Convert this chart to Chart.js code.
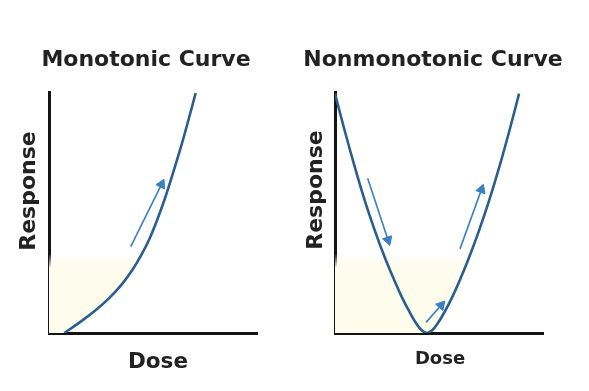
<!DOCTYPE html>
<html>
<head>
<meta charset="utf-8">
<script src="https://cdn.jsdelivr.net/npm/chart.js@4.4.0/dist/chart.umd.min.js"></script>
<style>
  html, body { margin: 0; padding: 0; background: #ffffff; width: 589px; height: 391px; overflow: hidden; }
  canvas { position: absolute; top: 0; }
  #monoChart { left: 0; }
  #nonmonoChart { left: 295px; }
</style>
</head>
<body>
<canvas id="monoChart" width="295" height="391"></canvas>
<canvas id="nonmonoChart" width="294" height="391"></canvas>
<script>
// ---------------- data ----------------
const panelTitles = ['Monotonic Curve', 'Nonmonotonic Curve'];
const yAxisTitle = 'Response';
const xAxisTitle = 'Dose';

// Monotonic curve (dose 0-10, response 0-10, arbitrary units)
const monoDose     = [0.74, 1.49, 2.21, 2.93, 3.51, 3.99, 4.42, 4.81, 5.19, 5.58, 5.96, 6.35, 6.73, 7.05];
const monoResponse = [0.00, 0.45, 0.92, 1.48, 2.03, 2.59, 3.21, 3.87, 4.67, 5.60, 6.63, 7.74, 8.92, 9.95];

// Nonmonotonic (U-shaped) curve
const nonmonoDose     = [0.00, 0.48, 0.96, 1.44, 1.92, 2.40, 2.84, 3.22, 3.61, 3.94, 4.18, 4.42,
                         4.66, 4.90, 5.24, 5.63, 6.01, 6.44, 6.92, 7.40, 7.89, 8.37, 8.85];
const nonmonoResponse = [9.93, 8.35, 6.86, 5.47, 4.24, 3.12, 2.21, 1.48, 0.83, 0.35, 0.10, 0.00,
                         0.10, 0.35, 0.83, 1.48, 2.21, 3.12, 4.24, 5.47, 6.86, 8.35, 9.93];

// Direction arrows: [tailDose, tailResponse, headDose, headResponse]
const monoArrows = [
  [3.93, 3.58, 5.41, 6.17]
];
const nonmonoArrows = [
  [1.57, 6.42, 2.55, 3.86],
  [6.01, 3.49, 7.04, 5.95],
  [4.38, 0.44, 5.10, 1.15]
];

// Low-dose shaded band (response level of its top edge)
const shadeLevel = 3.3;

// ---------------- styles ----------------
const CURVE_COLOR = '#2b5d8d';
const ARROW_COLOR = '#3a7fc1';
const AXIS_COLOR = '#141414';
const TEXT_COLOR = '#222222';
const SHADE_RGB = '254,252,236';
const SHADE_FADE = 0.6;
const FONT = '"DejaVu Sans", "Liberation Sans", sans-serif';

// ---------------- helpers ----------------
function toPoints(xs, ys) { return xs.map((x, i) => ({ x: x, y: ys[i] })); }

function interpX(p1, p2, level) {
  return p1.x + (level - p1.y) / (p2.y - p1.y) * (p2.x - p1.x);
}

// polygon: y-axis, x-axis, then along the (rising) curve until it reaches the level
function shadePolygon(xs, ys, level) {
  const pts = toPoints(xs, ys);
  let iMin = 0;
  ys.forEach((v, i) => { if (v < ys[iMin]) iMin = i; });
  const poly = [{ x: 0, y: level }, { x: 0, y: 0 }];
  for (let i = iMin; i < pts.length; i++) {
    if (pts[i].y <= level) {
      poly.push(pts[i]);
    } else {
      poly.push({ x: interpX(pts[i - 1], pts[i], level), y: level });
      break;
    }
  }
  return poly;
}

function arrowRotation(c) {
  const ch = c.chart;
  const d = ch.data.datasets[c.datasetIndex].data;
  const xs = ch.scales.x, ys = ch.scales.y;
  const dx = xs.getPixelForValue(d[1].x) - xs.getPixelForValue(d[0].x);
  const dy = ys.getPixelForValue(d[1].y) - ys.getPixelForValue(d[0].y);
  return Math.atan2(dx, -dy) * 180 / Math.PI;
}

function shadeFill(c) {
  const ch = c.chart;
  if (!ch.chartArea) return 'rgba(' + SHADE_RGB + ',1)';
  const ys = ch.scales.y;
  const y0 = ys.getPixelForValue(shadeLevel);
  const y1 = ys.getPixelForValue(shadeLevel - SHADE_FADE);
  const g = ch.ctx.createLinearGradient(0, y0, 0, y1);
  g.addColorStop(0, 'rgba(' + SHADE_RGB + ',0)');
  g.addColorStop(1, 'rgba(' + SHADE_RGB + ',1)');
  return g;
}

const panelTextPlugin = {
  id: 'panelText',
  afterDraw(chart, args, o) {
    const { ctx, chartArea: a } = chart;
    ctx.save();
    ctx.fillStyle = TEXT_COLOR;
    ctx.textAlign = 'center';
    ctx.textBaseline = 'alphabetic';
    ctx.font = 'bold ' + o.titleSize + 'px ' + FONT;
    ctx.fillText(o.title, a.left + o.titleDx, a.top + o.titleDy);
    ctx.font = 'bold ' + o.xSize + 'px ' + FONT;
    ctx.fillText(o.xTitle, a.left + o.xDx, a.bottom + o.xDy);
    ctx.translate(a.left + o.yDx, a.top + o.yDy);
    ctx.rotate(-Math.PI / 2);
    ctx.font = 'bold ' + o.ySize + 'px ' + FONT;
    ctx.fillText(o.yTitle, 0, 0);
    ctx.restore();
  }
};

function axisOpts() {
  return {
    type: 'linear', min: 0, max: 10,
    ticks: { display: false },
    grid: { display: false, drawTicks: false },
    border: { display: true, width: 3, color: AXIS_COLOR }
  };
}

function buildDatasets(xs, ys, arrows) {
  const sets = [];
  arrows.forEach(a => {
    sets.push({
      data: [{ x: a[0], y: a[1] }, { x: a[2], y: a[3] }],
      borderColor: ARROW_COLOR, borderWidth: 1.6, tension: 0, fill: false,
      pointStyle: 'triangle',
      pointRadius: c => (c.dataIndex === 1 ? 5.6 : 0),
      pointRotation: arrowRotation,
      pointBackgroundColor: ARROW_COLOR, pointBorderColor: ARROW_COLOR, pointBorderWidth: 1
    });
  });
  sets.push({
    data: toPoints(xs, ys),
    borderColor: CURVE_COLOR, borderWidth: 2.6, pointRadius: 0,
    tension: 0.4, fill: false
  });
  sets.push({
    data: shadePolygon(xs, ys, shadeLevel),
    borderWidth: 0, pointRadius: 0, tension: 0,
    fill: 'shape', backgroundColor: shadeFill
  });
  return sets;
}

function makeChart(id, xs, ys, arrows, padding, text) {
  return new Chart(document.getElementById(id), {
    type: 'line',
    data: { datasets: buildDatasets(xs, ys, arrows) },
    options: {
      responsive: false, animation: false, events: [],
      layout: { padding: padding },
      plugins: {
        legend: { display: false },
        tooltip: { enabled: false },
        title: { display: false },
        panelText: text
      },
      scales: { x: axisOpts(), y: axisOpts() }
    },
    plugins: [panelTextPlugin]
  });
}

makeChart('monoChart', monoDose, monoResponse, monoArrows,
  { left: 49, top: 92, right: 38, bottom: 58 },
  { title: panelTitles[0], titleSize: 22, titleDx: 97, titleDy: -26,
    xTitle: xAxisTitle, xSize: 21.5, xDx: 109, xDy: 34.5,
    yTitle: yAxisTitle, ySize: 22, yDx: -14, yDy: 99 });

makeChart('nonmonoChart', nonmonoDose, nonmonoResponse, nonmonoArrows,
  { left: 40, top: 92, right: 46, bottom: 58 },
  { title: panelTitles[1], titleSize: 22, titleDx: 98, titleDy: -26,
    xTitle: xAxisTitle, xSize: 18, xDx: 105, xDy: 31,
    yTitle: yAxisTitle, ySize: 22, yDx: -13, yDy: 98 });
</script>
</body>
</html>
